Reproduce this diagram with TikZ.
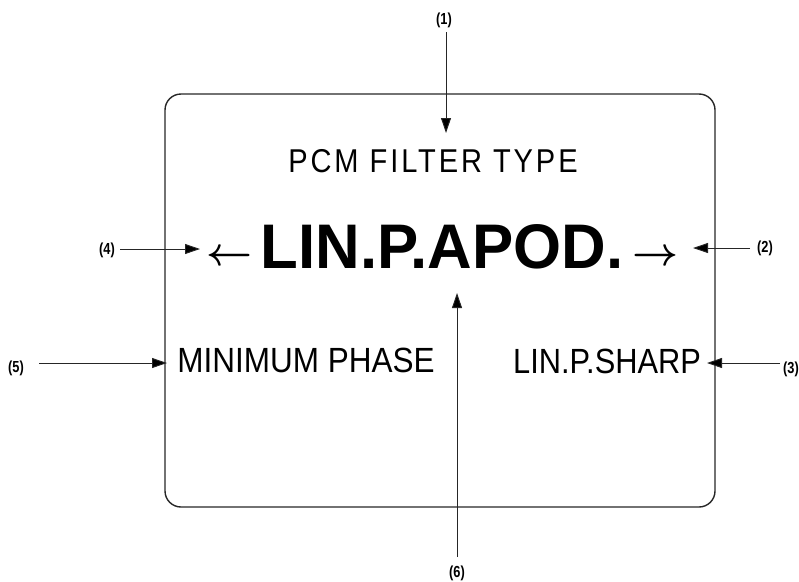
\documentclass[tikz,border=0pt]{standalone}
\usepackage{fontspec}
\usepackage{graphicx}
\setmainfont{Liberation Sans}
\usetikzlibrary{arrows.meta}
\begin{document}
\begin{tikzpicture}[x=1pt,y=-1pt,
  lab/.style={inner sep=0pt, font=\bfseries\fontsize{16}{16}\selectfont},
  ptr/.style={line width=0.9pt, draw=black!85, -{Triangle[length=15pt,width=10pt,fill=black]}},
  txt/.style={inner sep=0pt, anchor=base},
]
\useasboundingbox (0,0) rectangle (799,581);
% screen frame
\draw[line width=1.4pt, draw=black!85, rounded corners=16pt] (165,94) rectangle (715,507);
% screen texts
\node[txt] (title) at (433,172) {\fontsize{33}{33}\selectfont\addfontfeature{LetterSpace=10}\scalebox{0.88}[1]{PCM FILTER TYPE}};
\node[txt] (main) at (442,268) {\bfseries\fontsize{63}{63}\selectfont\scalebox{0.98}[1]{LIN.P.APOD.}};
\node[inner sep=0pt] (larr) at (230,258) {\resizebox{46pt}{!}{\boldmath$\leftarrow$}};
\node[inner sep=0pt] (rarr) at (655,258) {\resizebox{46pt}{!}{\boldmath$\rightarrow$}};
\node[txt] (minph) at (306,372) {\fontsize{35}{35}\selectfont\scalebox{0.9}[1]{MINIMUM PHASE}};
\node[txt] (sharp) at (607,373) {\fontsize{35}{35}\selectfont\scalebox{0.88}[1]{LIN.P.SHARP}};
% callout labels
\node[lab] (l1) at (444,20) {\scalebox{0.8}[1]{(1)}};
\node[lab] (l2) at (765,248) {\scalebox{0.8}[1]{(2)}};
\node[lab] (l3) at (791,369) {\scalebox{0.8}[1]{(3)}};
\node[lab] (l4) at (107,250) {\scalebox{0.8}[1]{(4)}};
\node[lab] (l5) at (16,368) {\scalebox{0.8}[1]{(5)}};
\node[lab] (l6) at (457,573) {\scalebox{0.8}[1]{(6)}};
% callout ends
\coordinate (s1) at (446,32);   \coordinate (t1) at (446,133);
\coordinate (s2) at (750,248);  \coordinate (t2) at (693,248);
\coordinate (s3) at (780,363);  \coordinate (t3) at (707,363);
\coordinate (s4) at (120,249);  \coordinate (t4) at (200,249);
\coordinate (s5) at (39,363);   \coordinate (t5) at (167,363);
\coordinate (s6) at (457,557);  \coordinate (t6) at (457,293);
\draw[ptr] (s1) -- (t1);
\draw[ptr] (s2) -- (t2);
\draw[ptr] (s3) -- (t3);
\draw[ptr] (s4) -- (t4);
\draw[ptr] (s5) -- (t5);
\draw[ptr] (s6) -- (t6);
\end{tikzpicture}
\end{document}
